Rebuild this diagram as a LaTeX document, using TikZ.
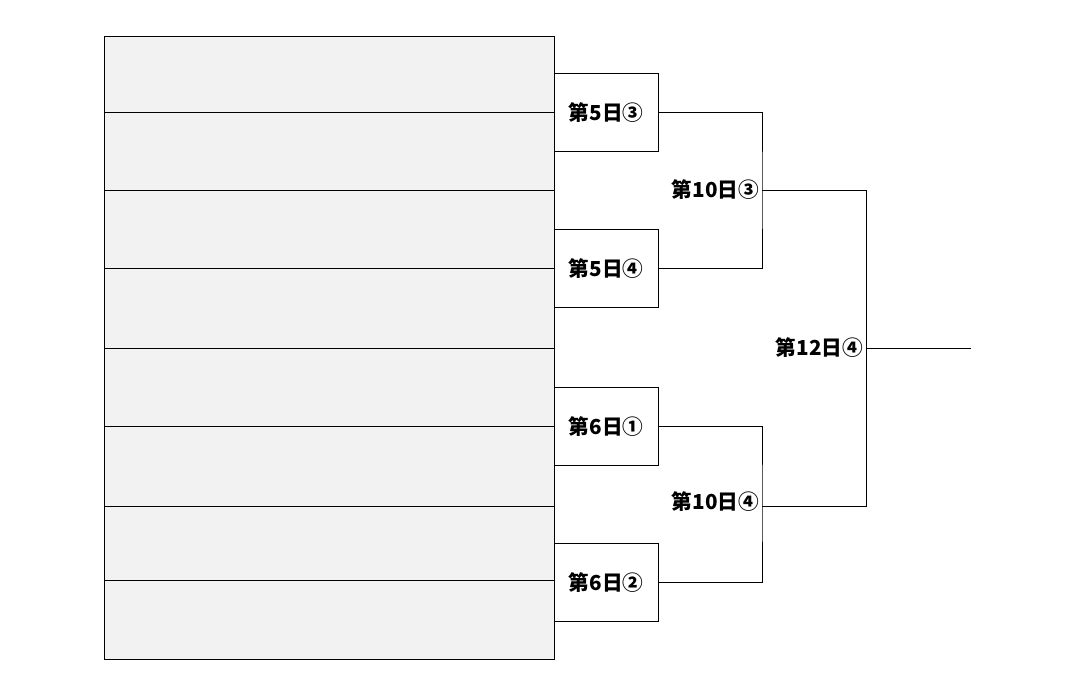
\documentclass[tikz,border=0pt]{standalone}
\usepackage{fontspec}
\newfontfamily\cjk{Noto Sans CJK JP}
\usetikzlibrary{positioning}
\begin{document}
\begin{tikzpicture}
		[x=0.75pt, y=-0.75pt,
		 slot/.style={draw=black, fill=black!5},
		 game/.style={draw=black, fill=white, minimum width=78pt, minimum height=58.5pt, inner sep=0pt, font=\cjk\bfseries\fontsize{15.5}{17}\selectfont},
		 round/.style={anchor=east, inner sep=2pt, font=\cjk\bfseries\fontsize{15.5}{17}\selectfont},
		 wire/.style={draw=black, line width=0.6pt}]
		\useasboundingbox (0,0) rectangle (1075,696);
		\draw[slot] (104,36) rectangle (554,659);
		\foreach \y in {112,190,268,348,426,506,580}
			\draw (104,\y) -- (554,\y);

		\node[game, anchor=north west] (a) at (554,73) {第5日③};
		\node[game, anchor=north west] (b) at (554,229) {第5日④};
		\node[game, anchor=north west] (c) at (554,387) {第6日①};
		\node[game, anchor=north west] (d) at (554,543) {第6日②};

		\coordinate (ab) at (762,190);
		\coordinate (cd) at (762,502);
		\coordinate (fin) at (866,348);
		\coordinate (out) at (971,348);

		\node[round] (ablabel) at (ab) {第10日③};
		\node[round] (cdlabel) at (cd) {第10日④};
		\node[round] (finlabel) at (fin) {第12日④};

		\draw[wire] (a.east) -| (ab) |- (b.east);
		\draw[wire] (c.east) -| (cd) |- (d.east);
		\draw[wire] (ab) -- (866,190) -- (866,506) -- (cd |- 0,506);
		\draw[wire] (fin) -- (out);
	\end{tikzpicture}
\end{document}
